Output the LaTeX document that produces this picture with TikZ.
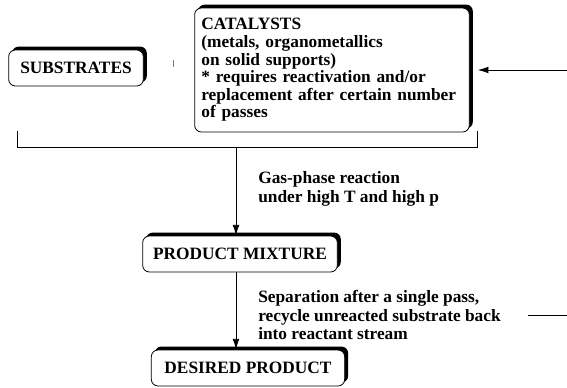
\documentclass[tikz,border=0pt]{standalone}
\usepackage{fontspec}
\setmainfont{Liberation Serif}
\usetikzlibrary{arrows.meta,shadows}
\tikzset{
  box/.style={draw,line width=0.6pt,rounded corners=5pt,fill=white,inner sep=0pt,
    font=\fontsize{13}{13.2}\selectfont\bfseries,
    drop shadow={shadow xshift=2.6pt,shadow yshift=2.6pt,fill=black,opacity=1}},
  lbl/.style={anchor=west,align=left,inner sep=0pt},
  arr/.style={-{Latex[length=8pt,width=5pt]},line width=0.6pt}
}
\begin{document}
\begin{tikzpicture}[x=0.75pt,y=-0.75pt]
\useasboundingbox (0,0) rectangle (567,387);
\node[box,minimum width=101pt,minimum height=27pt] (sub) at (76,68) {SUBSTRATES};
\node[box,minimum width=206pt,minimum height=93pt,text width=196pt,align=left] (cat) at (332,70)
  {CATALYSTS\\(metals, organometallics\\on solid supports)\\{*} requires reactivation and/or\\replacement after certain number\\of passes};
\node[box,minimum width=146pt,minimum height=27pt] (pm) at (240,254) {PRODUCT MIXTURE};
\node[box,minimum width=145pt,minimum height=27pt] (dp) at (248,368) {DESIRED PRODUCT};
\coordinate (bl) at (17,131); \coordinate (br) at (477,131); \coordinate (split) at (236,147);
\coordinate (feed) at (567,70); \coordinate (rec) at (528,315); \coordinate (recend) at (567,315);
\draw[line width=0.6pt] (bl)--(bl|-split)--(br|-split)--(br);
\draw[arr] (split)--(split|-pm.north);
\draw[arr] (split|-pm.south)--(split|-dp.north);
\draw[arr,shorten >=6pt] (feed)--(cat.east|-feed);
\draw[line width=0.6pt] (rec)--(recend);
\draw[gray,line width=0.5pt] (173,60)--(173,67);
\node[lbl,font=\fontsize{13}{14.2}\selectfont\bfseries] (gas) at (258,189) {Gas-phase reaction\\under high T and high p};
\node[lbl,font=\fontsize{13}{13.6}\selectfont\bfseries] (sep) at (258,315) {Separation after a single pass,\\recycle unreacted substrate back\\into reactant stream};
\end{tikzpicture}
\end{document}
